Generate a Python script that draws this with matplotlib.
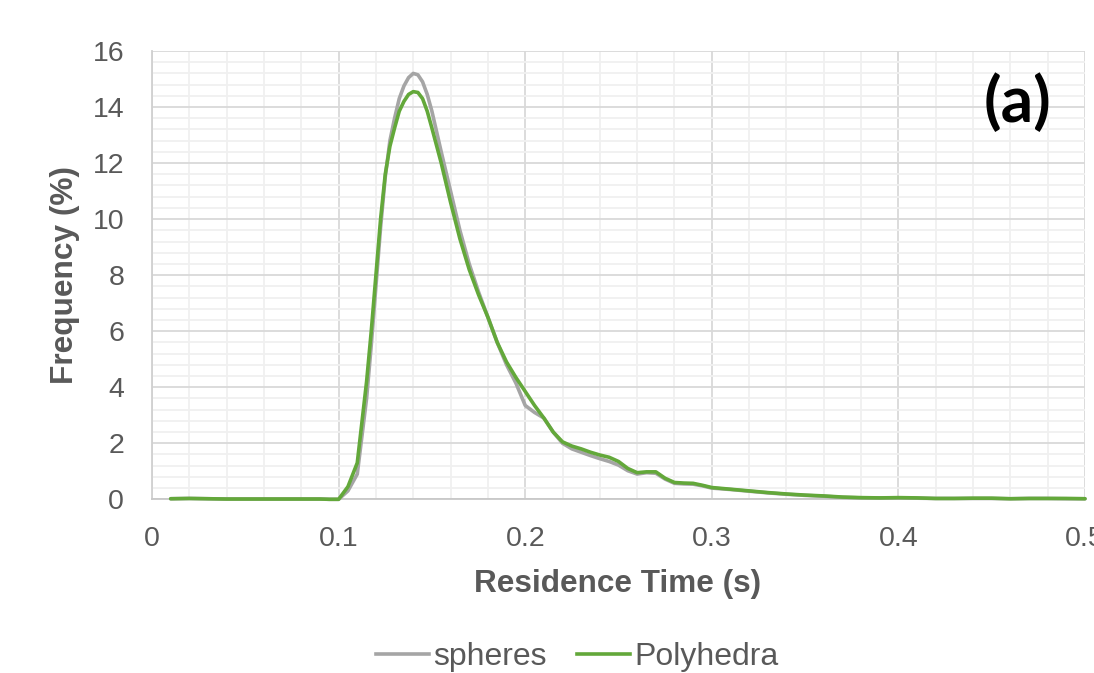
import matplotlib
matplotlib.use("Agg")
import matplotlib.pyplot as plt
from matplotlib.lines import Line2D
import numpy as np

# Residence time (s)
time_s = [0.01, 0.02, 0.03, 0.04, 0.05, 0.06, 0.07, 0.08, 0.09, 0.095, 0.10,
          0.105, 0.11, 0.115, 0.1175, 0.12, 0.1225, 0.125, 0.1275, 0.13,
          0.1325, 0.135, 0.1375, 0.14, 0.1425, 0.145, 0.1475, 0.15,
          0.155, 0.16, 0.165, 0.17, 0.175, 0.18, 0.185, 0.19, 0.195, 0.20,
          0.205, 0.21, 0.215, 0.22, 0.225, 0.23, 0.235, 0.24, 0.245, 0.25,
          0.255, 0.26, 0.265, 0.27, 0.275, 0.28, 0.285, 0.29, 0.295, 0.30,
          0.31, 0.32, 0.33, 0.34, 0.35, 0.36, 0.37, 0.38, 0.39, 0.40,
          0.41, 0.42, 0.43, 0.44, 0.45, 0.46, 0.47, 0.48, 0.49, 0.50]

polyhedra = [0.02, 0.03, 0.02, 0.01, 0.01, 0.01, 0.01, 0.01, 0.01, 0.0, 0.0,
             0.45, 1.3, 4.2, 6.0, 8.0, 10.0, 11.6, 12.6, 13.25,
             13.85, 14.2, 14.45, 14.55, 14.52, 14.3, 13.85, 13.25,
             12.0, 10.6, 9.3, 8.2, 7.3, 6.5, 5.6, 4.9, 4.35, 3.85,
             3.35, 2.9, 2.4, 2.05, 1.9, 1.8, 1.68, 1.58, 1.5, 1.35,
             1.1, 0.95, 0.98, 0.98, 0.75, 0.6, 0.58, 0.57, 0.5, 0.42,
             0.36, 0.3, 0.24, 0.19, 0.15, 0.12, 0.08, 0.06, 0.05, 0.06,
             0.05, 0.03, 0.03, 0.04, 0.04, 0.02, 0.03, 0.03, 0.03, 0.02]

spheres = [0.02, 0.03, 0.02, 0.01, 0.01, 0.01, 0.01, 0.01, 0.01, 0.0, 0.0,
           0.3, 0.9, 3.6, 5.5, 7.6, 9.7, 11.5, 12.8, 13.6,
           14.3, 14.75, 15.05, 15.2, 15.15, 14.9, 14.45, 13.85,
           12.4, 11.0, 9.6, 8.4, 7.4, 6.5, 5.6, 4.8, 4.15, 3.35,
           3.1, 2.9, 2.4, 2.0, 1.8, 1.68, 1.56, 1.45, 1.35, 1.22,
           1.02, 0.9, 0.95, 0.93, 0.72, 0.57, 0.55, 0.54, 0.48, 0.40,
           0.35, 0.29, 0.23, 0.18, 0.14, 0.11, 0.07, 0.05, 0.05, 0.05,
           0.04, 0.03, 0.03, 0.03, 0.03, 0.02, 0.03, 0.03, 0.02, 0.02]

x_ticks = [0, 0.1, 0.2, 0.3, 0.4, 0.5]
x_tick_labels = ["0", "0.1", "0.2", "0.3", "0.4", "0.5"]
y_ticks = [0, 2, 4, 6, 8, 10, 12, 14, 16]

plt.rcParams['font.family'] = ['Liberation Sans', 'DejaVu Sans']

W, H = 1094, 673
fig = plt.figure(figsize=(W / 100, H / 100), dpi=100)
ax = fig.add_axes([152 / W, 1 - 499.3 / H, (1085 - 152) / W, (499.3 - 51) / H])

txt_color = "#595959"
gray = "#A5A5A5"
green = "#63A83A"

ax.set_xlim(0, 0.5)
ax.set_ylim(0, 16)
ax.set_xticks(x_ticks)
ax.set_xticklabels(x_tick_labels)
ax.set_yticks(y_ticks)
ax.set_xticks(np.arange(0, 0.5001, 0.02), minor=True)
ax.set_yticks(np.arange(0, 16.001, 0.4), minor=True)

ax.grid(which="minor", color="#F0F0F0", linewidth=1.3, zorder=0)
ax.grid(which="major", color="#D9D9D9", linewidth=1.3, zorder=0.5)
ax.set_axisbelow(True)

for side in ["top", "right"]:
    ax.spines[side].set_visible(False)
ax.spines["left"].set_color("#D0D0D0")
ax.spines["left"].set_linewidth(1.3)
ax.spines["bottom"].set_color("#C8C8C8")
ax.spines["bottom"].set_linewidth(1.3)

ax.tick_params(which="both", length=0)
ax.tick_params(axis="x", labelsize=20.5, labelcolor=txt_color, pad=19)
ax.tick_params(axis="y", labelsize=20.5, labelcolor=txt_color, pad=20)

ax.plot(time_s, spheres, color=gray, linewidth=2.6, solid_joinstyle="round",
        solid_capstyle="round", zorder=3, clip_on=False)
ax.plot(time_s, polyhedra, color=green, linewidth=2.6, solid_joinstyle="round",
        solid_capstyle="round", zorder=4, clip_on=False)

fig.text(618 / W, 1 - 584 / H, "Residence Time (s)", ha="center", va="center",
         fontsize=22.7, fontweight="bold", color=txt_color)
fig.text(65 / W, 1 - 275 / H, "Frequency (%)", ha="center", va="center",
         rotation=90, fontsize=22.8, fontweight="bold", color=txt_color)
fig.text(1018 / W, 1 - 102 / H, "(a)", ha="center", va="center",
         fontsize=46, fontweight="bold", color="black", family=["Lato", "DejaVu Sans"])

handles = [Line2D([], [], color=gray, linewidth=2.6),
           Line2D([], [], color=green, linewidth=2.6)]
fig.legend(handles, ["spheres", "Polyhedra"], loc="center",
           bbox_to_anchor=(577.5 / W, 1 - 657 / H), ncol=2, frameon=False,
           fontsize=23, labelcolor=txt_color, handlelength=1.65,
           handletextpad=0.15, columnspacing=0.95, borderpad=0)

fig.savefig("out.png", dpi=100)
